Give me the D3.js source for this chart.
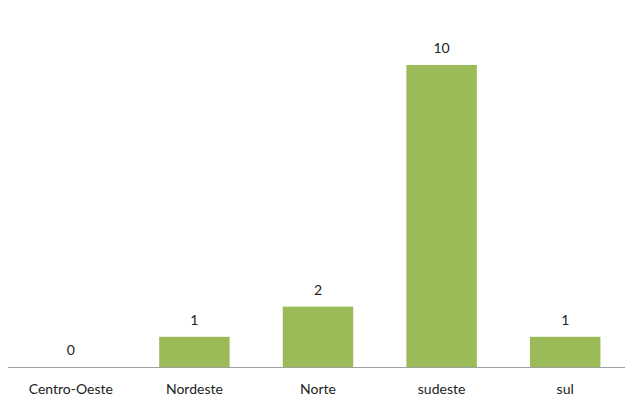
<!DOCTYPE html>
<html><head><meta charset="utf-8">
<script src="https://cdn.jsdelivr.net/npm/d3@7"></script>
<style>body{margin:0;background:#fff}svg{display:block}</style>
</head><body>
<script>
const categories = ["Centro-Oeste","Nordeste","Norte","sudeste","sul"];
const values = [0,1,2,10,1];

const W=625,H=397;
const svg=d3.select("body").append("svg").attr("width",W).attr("height",H);
const x=d3.scaleBand().domain(categories).range([9,627]).paddingInner(0.43).paddingOuter(0.215);
const y=d3.scaleLinear().domain([0,10]).range([367,65]);
const font="Lato, 'Open Sans', sans-serif";

svg.selectAll("rect.bar").data(values).join("rect")
  .attr("x",(d,i)=>x(categories[i])).attr("width",x.bandwidth())
  .attr("y",d=>y(d)).attr("height",d=>y(0)-y(d)).attr("fill","#9BBB59");

svg.append("line").attr("x1",8).attr("x2",625).attr("y1",y(0)+0.5).attr("y2",y(0)+0.5)
  .attr("stroke","#a0a0a0").attr("stroke-width",1);

svg.selectAll("text.val").data(values).join("text")
  .attr("x",(d,i)=>x(categories[i])+x.bandwidth()/2).attr("y",d=>y(d)-12)
  .attr("text-anchor","middle").attr("font-family",font).attr("font-size",14).attr("fill","#222")
  .text(d=>d);

svg.selectAll("text.cat").data(categories).join("text")
  .attr("x",d=>x(d)+x.bandwidth()/2).attr("y",394)
  .attr("text-anchor","middle").attr("font-family",font).attr("font-size",14).attr("fill","#222")
  .text(d=>d);
</script>
</body></html>
